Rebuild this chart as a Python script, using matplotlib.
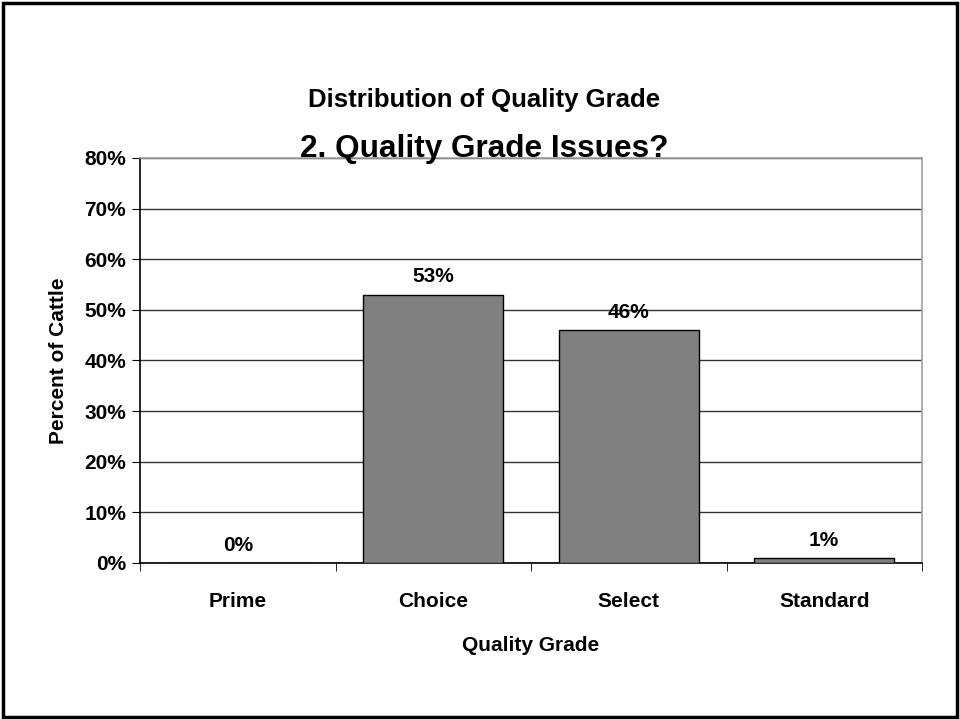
import matplotlib
matplotlib.use("Agg")
import matplotlib.pyplot as plt
from matplotlib.patches import Rectangle
import numpy as np

plt.rcParams['font.family'] = ['Liberation Sans', 'DejaVu Sans']
plt.rcParams['font.weight'] = 'bold'

# data
grades = ["Prime", "Choice", "Select", "Standard"]
percent = [0, 53, 46, 1]
yticks = [0, 10, 20, 30, 40, 50, 60, 70, 80]

W, H = 960, 719
fig = plt.figure(figsize=(W / 100, H / 100), dpi=100)
ax = fig.add_axes([140 / W, 1 - 563 / H, (922 - 140) / W, (563 - 158) / H])

x = np.arange(len(grades))
bars = ax.bar(x, percent, width=0.715, color="#808080", edgecolor="black",
              linewidth=1, zorder=3)

for xi, v in zip(x, percent):
    ax.annotate(f"{v}%", (xi, v), xytext=(0, 6), textcoords="offset points",
                ha="center", va="bottom", fontsize=15, fontweight="bold")

ax.set_xlim(-0.5, len(grades) - 0.5)
ax.set_ylim(0, 80)
ax.set_yticks(yticks)
ax.set_yticklabels([f"{t}%" for t in yticks], fontsize=15, fontweight="bold")
ax.yaxis.grid(True, color="#333333", linewidth=1, zorder=0)
ax.set_axisbelow(True)

ax.set_xticks(x)
ax.set_xticklabels(grades, fontsize=15, fontweight="bold")
ax.tick_params(axis="x", length=0, pad=21)
ax.set_xticks(np.arange(len(grades) + 1) - 0.5, minor=True)
ax.tick_params(axis="x", which="minor", length=6, direction="out")
ax.tick_params(axis="y", length=6, direction="out", pad=4)

for s in ["left", "bottom"]:
    ax.spines[s].set_color("black")
    ax.spines[s].set_linewidth(1.2)
for s in ["top", "right"]:
    ax.spines[s].set_color("#a0a0a0")
    ax.spines[s].set_linewidth(1.2)

ax.set_xlabel("Quality Grade", fontsize=15, fontweight="bold", labelpad=18)
ax.set_ylabel("Percent of Cattle", fontsize=15, fontweight="bold", labelpad=12)

fig.text(484 / W, 1 - 107 / H, "Distribution of Quality Grade", ha="center",
         va="baseline", fontsize=18.5, fontweight="bold")
fig.text(484 / W, 1 - 157 / H, "2. Quality Grade Issues?", ha="center",
         va="baseline", fontsize=22.7, fontweight="bold")

fig.patches.append(Rectangle((3 / W, 2 / H), 1 - 6 / W, 1 - 5 / H,
                             transform=fig.transFigure, fill=False,
                             edgecolor="black", linewidth=2.5))

fig.savefig("out.png", dpi=100)
